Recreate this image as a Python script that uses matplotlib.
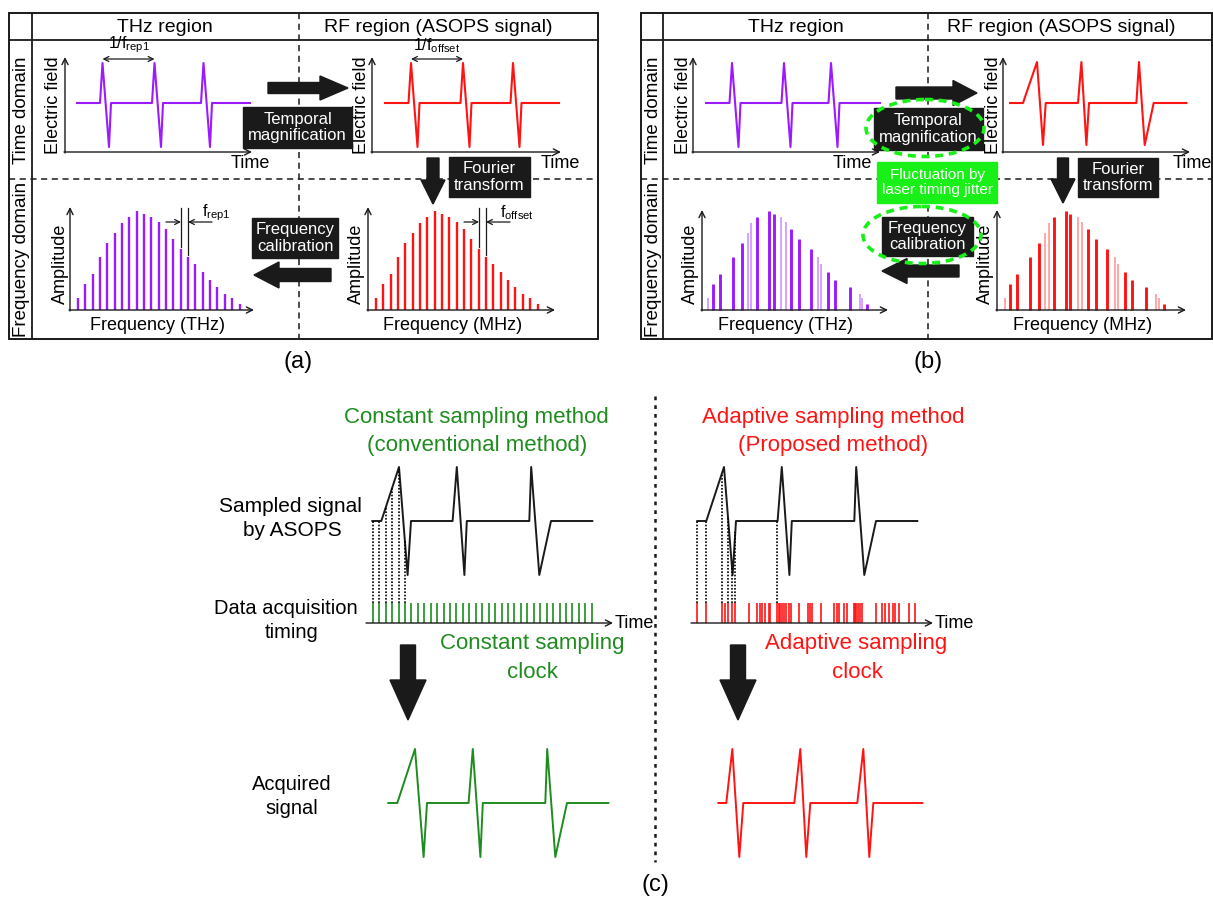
import numpy as np
import matplotlib
matplotlib.use("Agg")
import matplotlib.pyplot as plt
from matplotlib.patches import Rectangle, FancyArrow, Ellipse

plt.rcParams["font.family"] = ["Liberation Sans", "DejaVu Sans"]
plt.rcParams["mathtext.fontset"] = "custom"
plt.rcParams["mathtext.rm"] = "Liberation Sans"

W, H = 1213, 900

PURPLE = "#9b1bff"
PURPLE_LT = "#c98bff"
RED = "#ff1414"
RED_LT = "#ff8f8f"
GREEN = "#1e8c1e"
LIME = "#18f018"
INK = "#1a1a1a"

# ---------------- data ----------------
# time-domain pulse trains: time / field, measured from each plot's axis corner
thz_time_a = [12, 35, 37.5, 44, 46, 87, 89.5, 96, 98, 136, 138.5, 145, 147, 185]
rf_time_a = [13, 36.5, 39, 45.5, 47.5, 88.5, 91, 97.5, 99.5, 138.5, 141, 147.5, 149.5, 187]
thz_time_b = [13, 36.5, 39, 45.5, 47.5, 88.5, 91, 97.5, 99.5, 135.5, 138, 144.5, 146.5, 187]
pulse_field = [49, 49, 89, 5, 49, 49, 89, 5, 49, 49, 89, 5, 49, 49]
# ASOPS signal distorted by timing jitter in (b)
rf_time_b = [7, 20, 34, 40, 42.7, 75, 78.4, 83.4, 86, 133.4, 136, 141.7, 150.7, 183.4]
rf_field_b = [49, 49, 90, 7, 49, 49, 90, 7, 49, 49, 90, 7, 49, 49]

# frequency combs: amplitude of each comb line
comb_amp = [12, 26, 36, 53, 67, 77, 87, 93, 99, 96, 93, 88, 81, 71, 61, 53, 46, 38, 30, 23, 16, 12, 6]
comb_freq_a = [8, 15, 23, 30, 37, 45, 52, 59, 67, 74, 81, 89, 96, 103, 111, 118, 125, 133, 140, 147, 155, 162, 170]
comb_freq_b_thz = [5.6, 11, 18.3, 30.6, 40.3, 46, 49.3, 55, 66.6, 71.6, 79, 84, 89.3, 96.6,
                   108.6, 116, 119.3, 125.6, 132.6, 147.6, 157.6, 160, 165]
comb_freq_b_rf = [8, 12.7, 20, 32.7, 42.4, 48, 51.7, 57, 68.7, 73.4, 81, 85.4, 90.7, 98.7,
                  110.4, 118, 121, 127.7, 135, 149.4, 159.4, 161.7, 166.7]
comb_strong_b = [0, 1, 1, 1, 1, 0, 0, 1, 1, 1, 0, 0, 1, 1, 1, 0, 0, 1, 1, 1, 0, 0, 1]
mark_lines = [14, 15]  # comb lines used for the f_rep1 / f_offset marks

# (c) sampled ASOPS signal (time from clock-axis start, field relative to baseline)
asops_time = [5.3, 14.3, 32, 40.6, 44, 85.6, 89.8, 97.4, 99.8, 162.3, 164.2, 172.3, 184, 225.3]
asops_field = [0, 0, 54, -54, 0, 0, 54, -54, 0, 0, 54, -54, 0, 0]
acq_time_adapt = [26.3, 34.3, 40.3, 47.3, 51.3, 102.3, 108.3, 114.3, 118.3,
                  165.3, 171.3, 177.3, 181.3, 230.3]
acq_field_adapt = [0, 0, 54, -54, 0, 0, 54, -54, 0, 0, 54, -54, 0, 0]

clock_const = [5.7, 12.1, 18.6, 25, 31.5, 37.9, 44.3, 50.8, 57.2, 63.7, 70.1, 76.5, 83, 89.4,
               95.9, 102.3, 108.7, 115.2, 121.6, 128.1, 134.5, 140.9, 147.4, 153.8, 160.3,
               166.7, 173.1, 179.6, 186, 192.5, 198.9, 205.3, 211.8, 218.2, 224.7]
clock_adapt = [5, 14, 30, 32.6, 36, 40, 43.3, 56.6, 65, 68.3, 70, 72.6, 76.6, 78.3, 85, 86.6,
               88.3, 90, 92.3, 94.3, 96.6, 99.3, 106.6, 116, 118.3, 120, 129.3, 141.6, 145,
               147.3, 151.6, 155, 161.6, 162.6, 164, 166, 168.3, 170, 184, 190, 193.3, 196.6,
               200.6, 203.3, 207.3, 217.3, 223.3]
dotted_const = clock_const[:6]
dotted_adapt = [5, 14, 30, 36, 40, 43.3, 85]

# ---------------- figure ----------------
fig = plt.figure(figsize=(W / 100, H / 100), dpi=100)


def layer():
    a = fig.add_axes([0, 0, 1, 1])
    a.set_xlim(0, W)
    a.set_ylim(H, 0)
    a.axis("off")
    a.patch.set_visible(False)
    return a


def inset(ox, oy, x0, x1, y0, y1):
    # local (0, 0) sits at pixel (ox, oy); local y grows upwards
    a = fig.add_axes([(ox + x0) / W, 1 - (oy - y0) / H, (x1 - x0) / W, (y1 - y0) / H])
    a.set_xlim(x0, x1)
    a.set_ylim(y0, y1)
    a.axis("off")
    a.patch.set_visible(False)
    return a


def axis_arrows(a, xlen, yh):
    kw = dict(arrowstyle="->", lw=1.0, color=INK, shrinkA=0, shrinkB=0, mutation_scale=11)
    a.annotate("", xy=(xlen, 0), xytext=(-1, 0), arrowprops=kw)
    if yh:
        a.annotate("", xy=(0, yh), xytext=(0, -1), arrowprops=kw)


bg = layer()

# panel frames (a) and (b)
for x0, x1, xc, xm in [(9, 598, 32, 299), (641, 1212, 663, 928)]:
    bg.add_patch(Rectangle((x0, 13), x1 - x0, 326, fill=False, lw=1.4, ec=INK))
    bg.plot([xc, xc], [13, 339], color=INK, lw=1.3)
    bg.plot([x0, x1], [40, 40], color=INK, lw=1.3)
    bg.plot([xm, xm], [13, 339], color=INK, lw=1.1, ls=(0, (4, 3)))
    bg.plot([x0, x1], [179, 179], color=INK, lw=1.1, ls=(0, (4, 3)))
    bg.text((x0 + xc) / 2 + 1, 110, "Time domain", rotation=90, ha="center", va="center", fontsize=13.5)
    bg.text((x0 + xc) / 2 + 1, 259, "Frequency domain", rotation=90, ha="center", va="center", fontsize=13.5)

for xa, xb in [(165, 438), (796, 1061)]:
    bg.text(xa, 27, "THz region", ha="center", va="center", fontsize=14)
    bg.text(xb, 27, "RF region (ASOPS signal)", ha="center", va="center", fontsize=14)

bg.text(298, 362, "(a)", ha="center", va="center", fontsize=17)
bg.text(928, 362, "(b)", ha="center", va="center", fontsize=17)
bg.text(655, 885, "(c)", ha="center", va="center", fontsize=17)
bg.plot([655, 655], [396, 862], color=INK, lw=1.8, ls=(0, (1.5, 2)))

# axis labels (a)/(b)
for x in [54, 362, 683, 993]:
    bg.text(x, 105, "Electric field", rotation=90, ha="center", va="center", fontsize=13)
for x in [250, 560, 852, 1192]:
    bg.text(x, 164, "Time", ha="center", va="center", fontsize=13)
for x in [60, 356, 690, 985]:
    bg.text(x, 264, "Amplitude", rotation=90, ha="center", va="center", fontsize=13)
for x, s in [(157, "Frequency (THz)"), (453, "Frequency (MHz)"),
             (786, "Frequency (THz)"), (1083, "Frequency (MHz)")]:
    bg.text(x, 325, s, ha="center", va="center", fontsize=13)

# ---- time-domain plots ----
for ox, t, v, c, L in [(65, thz_time_a, pulse_field, PURPLE, 187),
                       (372, rf_time_a, pulse_field, RED, 189),
                       (693, thz_time_b, pulse_field, PURPLE, 187),
                       (1003, rf_time_b, rf_field_b, RED, 187)]:
    a = inset(ox, 152, -10, L + 10, -10, 120)
    axis_arrows(a, L, 95)
    a.plot(t, v, color=c, lw=1.5)

# period marks in (a)
for ox, t, lab in [(65, thz_time_a, r"1/f$_{\rm rep1}$"), (372, rf_time_a, r"1/f$_{\rm offset}$")]:
    a = inset(ox, 152, -10, 200, -10, 125)
    p1, p2 = t[2], t[6]
    a.annotate("", xy=(p1, 93), xytext=(p2, 93),
               arrowprops=dict(arrowstyle="<->", lw=0.9, color=INK, shrinkA=0, shrinkB=0, mutation_scale=9))
    a.text((p1 + p2) / 2, 97, lab, ha="center", va="bottom", fontsize=11.5)

# ---- spectra ----
spec = [(70, comb_freq_a, PURPLE, 184, 103), (368, comb_freq_a, RED, 187, 103),
        (702, comb_freq_b_thz, PURPLE, 186, 100), (997, comb_freq_b_rf, RED, 189, 100)]
spec_axes = []
for i, (ox, f, c, L, yh) in enumerate(spec):
    a = inset(ox, 310, -10, L + 10, -10, 120)
    axis_arrows(a, L, yh)
    f = np.array(f)
    amp = np.array(comb_amp)
    if i < 2:
        a.vlines(f, 0, amp, color=c, lw=1.7)
    else:
        strong = np.array(comb_strong_b) == 1
        light = PURPLE_LT if c == PURPLE else RED_LT
        a.vlines(f[~strong], 0, amp[~strong], color=light, lw=1.1)
        a.vlines(f[strong], 0, amp[strong], color=c, lw=2.1)
    spec_axes.append(a)

# comb spacing marks in (a)
for a, lab in [(spec_axes[0], r"f$_{\rm rep1}$"), (spec_axes[1], r"f$_{\rm offset}$")]:
    fa, fb = comb_freq_a[mark_lines[0]], comb_freq_a[mark_lines[1]]
    for k in mark_lines:
        a.plot([comb_freq_a[k]] * 2, [comb_amp[k] + 2, 102], color=INK, lw=0.9)
    kw = dict(arrowstyle="->", lw=0.9, color=INK, shrinkA=0, shrinkB=0, mutation_scale=9)
    a.annotate("", xy=(fa, 88), xytext=(fa - 15, 88), arrowprops=kw)
    a.annotate("", xy=(fb, 88), xytext=(fb + 24, 88), arrowprops=kw)
    a.text(fb + 14, 97, lab, ha="left", va="center", fontsize=11.5)

# ---- panel (c) ----
sig_base = 102
for ox, clock, dots, c, L in [(367, clock_const, dotted_const, GREEN, 246),
                              (692, clock_adapt, dotted_adapt, RED, 241)]:
    a = inset(ox, 623, -10, L + 10, -10, 170)
    axis_arrows(a, L, 0)
    a.vlines(clock, 0, 20, color=c, lw=1.2)
    sig = np.array(asops_field) + sig_base
    a.plot(asops_time, sig, color=INK, lw=1.4)
    tops = np.interp(dots, asops_time, sig)
    a.vlines(dots, 20, tops, color="black", lw=1.2, ls=(0, (1, 1)))
    bg.text(ox + L + 2, 623, "Time", ha="left", va="center", fontsize=13)

a = inset(383, 803, -10, 240, -65, 65)
a.plot(asops_time, asops_field, color=GREEN, lw=1.4)
a = inset(692, 803, -10, 240, -65, 65)
a.plot(acq_time_adapt, acq_field_adapt, color=RED, lw=1.4)

bg.text(476, 417, "Constant sampling method", ha="center", va="center", fontsize=16, color=GREEN)
bg.text(477, 445, "(conventional method)", ha="center", va="center", fontsize=16, color=GREEN)
bg.text(833, 417, "Adaptive sampling method", ha="center", va="center", fontsize=16, color=RED)
bg.text(833, 445, "(Proposed method)", ha="center", va="center", fontsize=16, color=RED)
bg.text(290, 507, "Sampled signal", ha="center", va="center", fontsize=15)
bg.text(292, 531, "by ASOPS", ha="center", va="center", fontsize=15)
bg.text(286, 609, "Data acquisition", ha="center", va="center", fontsize=14.5)
bg.text(292, 633, "timing", ha="center", va="center", fontsize=14.5)
bg.text(532, 644, "Constant sampling", ha="center", va="center", fontsize=16, color=GREEN)
bg.text(532, 672, "clock", ha="center", va="center", fontsize=16, color=GREEN)
bg.text(856, 644, "Adaptive sampling", ha="center", va="center", fontsize=16, color=RED)
bg.text(857, 672, "clock", ha="center", va="center", fontsize=16, color=RED)
bg.text(292, 785, "Acquired", ha="center", va="center", fontsize=14.5)
bg.text(292, 809, "signal", ha="center", va="center", fontsize=14.5)

# ---- foreground: black boxes, block arrows, jitter marks ----
fg = layer()


def black_box(x, y, w, h, txt):
    fg.add_patch(Rectangle((x, y), w, h, color=INK, zorder=3))
    fg.text(x + w / 2, y + h / 2, txt, ha="center", va="center", color="white",
            fontsize=12, linespacing=1.15, zorder=4)


def block_arrow(x, y, dx, dy, w, hw, hl):
    fg.add_patch(FancyArrow(x, y, dx, dy, width=w, head_width=hw, head_length=hl,
                            length_includes_head=True, color=INK, zorder=3))


black_box(243, 107, 109, 41, "Temporal\nmagnification")
black_box(449, 157, 81, 40, "Fourier\ntransform")
black_box(252, 218, 86, 40, "Frequency\ncalibration")
block_arrow(268, 88, 80, 0, 11, 24, 28)
block_arrow(433, 158, 0, 46, 12, 24, 24)
block_arrow(331, 275, -77, 0, 13, 26, 25)

black_box(874, 108, 109, 42, "Temporal\nmagnification")
black_box(1078, 158, 80, 39, "Fourier\ntransform")
black_box(882, 217, 91, 39, "Frequency\ncalibration")
block_arrow(896, 93, 81, 0, 12, 25, 24)
block_arrow(1063, 158, 0, 45, 11, 24, 24)
block_arrow(959, 271, -77, 0, 12, 25, 25)

fg.add_patch(Rectangle((877, 162), 120, 41, color=LIME, zorder=5))
fg.text(937, 182.5, "Fluctuation by\nlaser timing jitter", ha="center", va="center",
        color="white", fontsize=11, linespacing=1.15, zorder=6)
for cx, cy in [(925, 128), (922, 235)]:
    fg.add_patch(Ellipse((cx, cy), 118, 57, fill=False, ec=LIME, lw=2.6,
                         ls=(0, (2.2, 1.6)), zorder=6))

block_arrow(408, 645, 0, 75, 15, 36, 40)
block_arrow(738, 645, 0, 75, 15, 36, 40)

fig.savefig("out.png", dpi=100)
